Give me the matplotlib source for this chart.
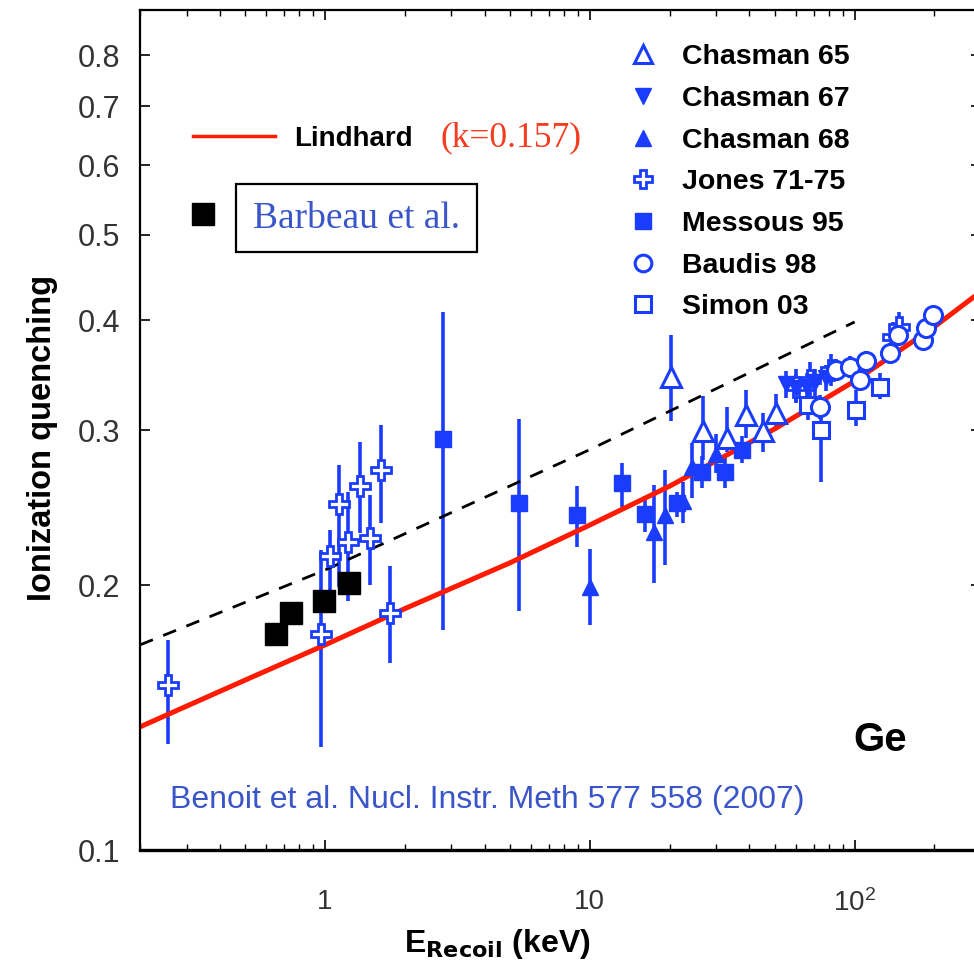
import matplotlib
matplotlib.use("Agg")
import matplotlib.pyplot as plt
from matplotlib.lines import Line2D
from matplotlib.ticker import FixedLocator, FixedFormatter, NullLocator, LogLocator

plt.rcParams['font.family'] = ['Liberation Sans', 'DejaVu Sans']

# --- data (E in keV, ionization quenching) ---
chasman65_e = [20.3, 26.8, 33.0, 39.0, 45.1, 50.6]
chasman65_q = [0.345, 0.299, 0.294, 0.312, 0.299, 0.314]
chasman65_lo = [0.307, 0.277, 0.283, 0.294, 0.283, 0.300]
chasman65_hi = [0.385, 0.328, 0.319, 0.333, 0.314, 0.330]

chasman67_e = [55.2, 60.3, 65.8, 71.0, 78.0]
chasman67_q = [0.338, 0.335, 0.336, 0.340, 0.344]
chasman67_lo = [0.326, 0.323, 0.324, 0.328, 0.332]
chasman67_hi = [0.350, 0.347, 0.348, 0.352, 0.356]

chasman68_e = [10.0, 17.5, 19.3, 22.5, 24.3, 29.9]
chasman68_q = [0.199, 0.230, 0.240, 0.249, 0.272, 0.282]
chasman68_lo = [0.180, 0.201, 0.211, 0.235, 0.251, 0.268]
chasman68_hi = [0.220, 0.260, 0.270, 0.262, 0.290, 0.297]

jones_e = [0.256, 0.963, 1.044, 1.126, 1.224, 1.352, 1.479, 1.626, 1.759,
           60.2, 67.6, 81.7, 139.6, 146.6]
jones_q = [0.154, 0.176, 0.216, 0.247, 0.224, 0.259, 0.226, 0.270, 0.186,
           0.336, 0.342, 0.351, 0.383, 0.393]
jones_lo = [0.132, 0.131, 0.192, 0.199, 0.192, 0.229, 0.200, 0.235, 0.163,
            0.322, 0.328, 0.337, 0.370, 0.380]
jones_hi = [0.173, 0.219, 0.231, 0.274, 0.255, 0.291, 0.253, 0.304, 0.210,
            0.352, 0.358, 0.366, 0.398, 0.408]

messous_e = [2.795, 5.41, 8.91, 13.28, 16.13, 21.4, 26.4, 32.3, 37.6]
messous_q = [0.293, 0.248, 0.240, 0.261, 0.241, 0.248, 0.269, 0.2685, 0.285]
messous_lo = [0.178, 0.187, 0.221, 0.2455, 0.230, 0.239, 0.258, 0.258, 0.275]
messous_hi = [0.409, 0.309, 0.259, 0.275, 0.2525, 0.255, 0.280, 0.280, 0.295]

baudis_e = [73.8, 85.3, 96.0, 104.5, 110.7, 135.6, 145.7, 181.0, 186.5, 197.6]
baudis_q = [0.319, 0.351, 0.354, 0.342, 0.359, 0.367, 0.385, 0.380, 0.392, 0.405]
baudis_lo = [0.309, 0.341, 0.344, 0.332, 0.349, 0.357, 0.375, 0.370, 0.382, 0.395]
baudis_hi = [0.329, 0.361, 0.364, 0.352, 0.369, 0.377, 0.395, 0.390, 0.402, 0.415]

simon_e = [66.5, 74.9, 101.5, 124.2]
simon_q = [0.320, 0.300, 0.316, 0.336]
simon_lo = [0.308, 0.262, 0.303, 0.325]
simon_hi = [0.333, 0.322, 0.333, 0.348]

barbeau_e = [0.653, 0.745, 0.99, 1.23]
barbeau_q = [0.176, 0.186, 0.192, 0.201]

lindhard_e = [0.2, 0.5, 1, 2, 5, 10, 20, 50, 100, 200, 300]
lindhard_q = [0.138, 0.156, 0.171, 0.188, 0.212, 0.234, 0.259, 0.301, 0.341, 0.393, 0.431]

dashed_e = [0.2, 1, 10, 100]
dashed_q = [0.171, 0.208, 0.285, 0.398]

yticks = [0.1, 0.2, 0.3, 0.4, 0.5, 0.6, 0.7, 0.8]
xticks = [1, 10, 100]
xticklabels = ['1', '10', r'$\mathregular{10^2}$']

blue = '#1a3cff'
red = '#ff1a00'
textblue = '#3a55c8'

fig = plt.figure(figsize=(9.74, 9.69), dpi=100)
ax = fig.add_axes([140 / 974, 1 - 850 / 969, 841 / 974, 840 / 969])
ax.set_xscale('log')
ax.set_yscale('log')


def errs(q, lo, hi):
    return [[a - b for a, b in zip(q, lo)], [c - a for a, c in zip(q, hi)]]


common = dict(ls='none', ecolor=blue, elinewidth=2.6, capsize=0, color=blue)
ax.errorbar(jones_e, jones_q, yerr=errs(jones_q, jones_lo, jones_hi), marker='P',
            ms=14, mfc='white', mec=blue, mew=2, **common)
ax.errorbar(messous_e, messous_q, yerr=errs(messous_q, messous_lo, messous_hi), marker='s',
            ms=12, mfc=blue, mec=blue, **common)
ax.errorbar(chasman68_e, chasman68_q, yerr=errs(chasman68_q, chasman68_lo, chasman68_hi),
            marker='^', ms=12, mfc=blue, mec=blue, **common)
ax.errorbar(chasman65_e, chasman65_q, yerr=errs(chasman65_q, chasman65_lo, chasman65_hi),
            marker='^', ms=14, mfc='white', mec=blue, mew=2.2, **common)
ax.errorbar(chasman67_e, chasman67_q, yerr=errs(chasman67_q, chasman67_lo, chasman67_hi),
            marker='v', ms=12, mfc=blue, mec=blue, **common)
ax.errorbar(simon_e, simon_q, yerr=errs(simon_q, simon_lo, simon_hi), marker='s',
            ms=12, mfc='white', mec=blue, mew=2.2, **common)
ax.errorbar(baudis_e, baudis_q, yerr=errs(baudis_q, baudis_lo, baudis_hi), marker='o',
            ms=13, mfc='white', mec=blue, mew=2.2, **common)

ax.plot(dashed_e, dashed_q, color='black', lw=2, ls=(0, (5, 4)))
ax.plot(lindhard_e, lindhard_q, color=red, lw=3.6, solid_capstyle='butt')
ax.plot(barbeau_e, barbeau_q, 's', color='black', ms=16, ls='none', zorder=5)

ax.set_xlim(0.2, 300)
ax.set_ylim(0.1, 0.9)

ax.xaxis.set_major_locator(FixedLocator(xticks))
ax.xaxis.set_major_formatter(FixedFormatter(xticklabels))
ax.xaxis.set_minor_locator(LogLocator(base=10, subs=range(2, 10)))
ax.yaxis.set_major_locator(FixedLocator(yticks))
ax.yaxis.set_major_formatter(FixedFormatter([str(v) for v in yticks]))
ax.yaxis.set_minor_locator(NullLocator())

ax.tick_params(which='both', direction='in', top=True, right=True, colors='black',
               labelcolor='#333333')
ax.tick_params(which='major', length=7, width=1.2)
ax.tick_params(which='minor', length=4, width=1.0)
ax.tick_params(axis='x', which='major', pad=28, labelsize=20)
ax.tick_params(axis='y', which='major', pad=14, labelsize=22)
for s in ax.spines.values():
    s.set_linewidth(1.6)
ax.spines['bottom'].set_linewidth(2.4)

ax.set_ylabel('Ionization quenching', fontsize=23.5, fontweight='bold')
ax.yaxis.set_label_coords(-0.097, 0.49)
ax.set_xlabel(r'E$_{\mathbf{Recoil}}$ (keV)', fontsize=23, fontweight='bold')
ax.xaxis.set_label_coords(0.4245, -0.092)

# legend of data sets
handles = [
    Line2D([], [], ls='none', marker='^', ms=13, mfc='white', mec=blue, mew=2.2),
    Line2D([], [], ls='none', marker='v', ms=11, mfc=blue, mec=blue),
    Line2D([], [], ls='none', marker='^', ms=11, mfc=blue, mec=blue),
    Line2D([], [], ls='none', marker='P', ms=13, mfc='white', mec=blue, mew=2),
    Line2D([], [], ls='none', marker='s', ms=11, mfc=blue, mec=blue),
    Line2D([], [], ls='none', marker='o', ms=12, mfc='white', mec=blue, mew=2.2),
    Line2D([], [], ls='none', marker='s', ms=12, mfc='white', mec=blue, mew=2.2),
]
labels = ['Chasman 65', 'Chasman 67', 'Chasman 68', 'Jones 71-75',
          'Messous 95', 'Baudis 98', 'Simon 03']
leg1 = ax.legend(handles, labels, loc='upper left', bbox_to_anchor=(0.578, 0.959),
                 frameon=False, borderpad=0, borderaxespad=0, handlelength=1.2,
                 handletextpad=0.75, labelspacing=0.55,
                 prop={'size': 20.5, 'weight': 'bold'})
ax.add_artist(leg1)

leg2 = ax.legend([Line2D([], [], color=red, lw=2.5)], ['Lindhard'], loc='center left',
                 bbox_to_anchor=(0.063, 0.8465), frameon=False, borderpad=0,
                 borderaxespad=0, handlelength=2.95, handletextpad=0.7,
                 prop={'size': 20, 'weight': 'bold'})
ax.add_artist(leg2)

leg3 = ax.legend([Line2D([], [], ls='none', marker='s', ms=16, color='black')],
                 ['Barbeau et al.'], loc='center left', bbox_to_anchor=(0.061, 0.752),
                 frameon=False, borderpad=0, borderaxespad=0, handlelength=0.65,
                 handletextpad=1.0, prop={'family': 'Liberation Serif', 'size': 27})
t = leg3.get_texts()[0]
t.set_color(textblue)
t.set_bbox(dict(boxstyle='square,pad=0.45', fc='white', ec='black', lw=1.6))

ax.text(0.357, 0.8476, '(k=0.157)', transform=ax.transAxes, ha='left', va='center',
        color='#f63b1e', fontsize=25.5, family='Liberation Serif')
ax.text(0.880, 0.131, 'Ge', transform=ax.transAxes, ha='center', va='center',
        fontsize=29, fontweight='bold', color='black')
ax.text(0.0357, 0.0595, 'Benoit et al. Nucl. Instr. Meth 577 558 (2007)',
        transform=ax.transAxes, ha='left', va='center', color=textblue, fontsize=23)

fig.savefig('out.png', dpi=100)
